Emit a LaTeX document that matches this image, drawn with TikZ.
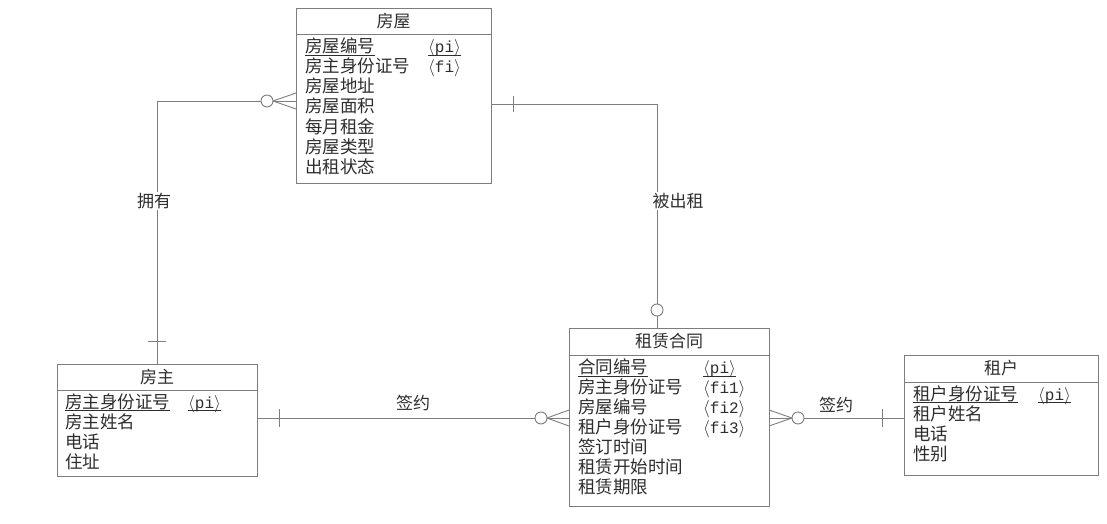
\documentclass[tikz,border=0pt]{standalone}
\usepackage{fontspec}
\newfontfamily\cjk{Noto Sans CJK SC}
\newfontfamily\tagfont{Liberation Mono}
\usetikzlibrary{positioning, calc}
\definecolor{linegray}{RGB}{125,125,125}
\definecolor{textgray}{RGB}{45,45,45}
\newcommand{\keyline}[1]{\setbox0\hbox{#1}\rlap{\rule[-3pt]{\wd0}{0.7pt}}\box0}

\begin{document}
\begin{tikzpicture}[x=1pt, y=-1pt,
  entity/.style={draw=linegray, line width=0.9pt, inner sep=0pt},
  title/.style={font=\cjk\fontsize{17}{20}\selectfont, text=textgray, inner sep=0pt},
  attr/.style={anchor=west, font=\cjk\fontsize{17.5}{20}\selectfont, text=textgray,
    inner sep=0pt, text height=13pt, text depth=3pt},
  tag/.style={anchor=west, font=\tagfont\fontsize{16}{20}\selectfont, text=textgray,
    inner sep=0pt, text height=13pt, text depth=3pt},
  link/.style={draw=linegray, line width=0.9pt},
  rel/.style={font=\cjk\fontsize{17}{20}\selectfont, text=textgray, fill=white,
    inner sep=1pt}
]
\useasboundingbox (0,0) rectangle (1107,524);

% entities
\node[entity, minimum width=195pt, minimum height=175pt] (fw) at (393.5,95.5) {};
\node[entity, minimum width=200pt, minimum height=112pt] (fz) at (157,420) {};
\node[entity, minimum width=200pt, minimum height=178pt] (ht) at (669,417) {};
\node[entity, minimum width=194pt, minimum height=120pt] (zh) at (1001,415) {};

% headers
\node[title] (fw-t) at (393.5,21) {房屋};
\node[title] (fz-t) at (157,377) {房主};
\node[title] (ht-t) at (669,341.5) {租赁合同};
\node[title] (zh-t) at (1001,368) {租户};
\draw[link] (fw.west |- 0,34) -- (fw.east |- 0,34);
\draw[link] (fz.west |- 0,390) -- (fz.east |- 0,390);
\draw[link] (ht.west |- 0,355) -- (ht.east |- 0,355);
\draw[link] (zh.west |- 0,382) -- (zh.east |- 0,382);

% attributes
\foreach \t [count=\i] in {\keyline{房屋编号}, 房主身份证号, 房屋地址, 房屋面积, 每月租金, 房屋类型, 出租状态}
  \node[attr] (fw\i) at (305,{48+20*(\i-1)}) {\t};
\node[tag] (fw-pi) at (428,48) {\keyline{$\langle$pi$\rangle$}};
\node[tag] (fw-fi) at (428,68) {$\langle$fi$\rangle$};

\foreach \t [count=\i] in {\keyline{房主身份证号}, 房主姓名, 电话, 住址}
  \node[attr] (fz\i) at (65,{403+20*(\i-1)}) {\t};
\node[tag] (fz-pi) at (188,403) {\keyline{$\langle$pi$\rangle$}};

\foreach \t [count=\i] in {\keyline{合同编号}, 房主身份证号, 房屋编号, 租户身份证号, 签订时间, 租赁开始时间, 租赁期限}
  \node[attr] (ht\i) at (578,{368.5+20*(\i-1)}) {\t};
\node[tag] (ht-pi) at (703,368.5) {\keyline{$\langle$pi$\rangle$}};
\node[tag] (ht-fi1) at (703,388.5) {$\langle$fi1$\rangle$};
\node[tag] (ht-fi2) at (703,408.5) {$\langle$fi2$\rangle$};
\node[tag] (ht-fi3) at (703,428.5) {$\langle$fi3$\rangle$};

\foreach \t [count=\i] in {\keyline{租户身份证号}, 租户姓名, 电话, 性别}
  \node[attr] (zh\i) at (913,{395+20*(\i-1)}) {\t};
\node[tag] (zh-pi) at (1038,395) {\keyline{$\langle$pi$\rangle$}};

% relationships
\draw[link] (fw.west |- 0,101) -- (fz.north |- 0,101) -- (fz.north);
\draw[link] (fw.east |- 0,104) -- (657,104) -- (ht.north -| 657,0);
\draw[link] (fz.east |- 0,418) -- (ht.west |- 0,418);
\draw[link] (ht.east |- 0,418) -- (zh.west |- 0,418);

% cardinality marks
\draw[link] (296,93) -- (273,101) -- (296,109);
\draw[link, fill=white] (267,101) circle[radius=6pt];
\draw[link] (148,341) -- (166,341);
\draw[link] (513,96) -- (513,112);
\draw[link, fill=white] (657,310) circle[radius=6pt];
\draw[link] (279,409) -- (279,427);
\draw[link] (569,410) -- (547,418) -- (569,426);
\draw[link, fill=white] (541,418) circle[radius=6pt];
\draw[link] (769,410) -- (792,418) -- (769,426);
\draw[link, fill=white] (798,418) circle[radius=6pt];
\draw[link] (882,409) -- (882,427);

% labels
\node[rel] (own) at (154,201) {拥有};
\node[rel] (rent) at (678,201) {被出租};
\node[rel, fill=none] (sign1) at (413,403) {签约};
\node[rel, fill=none] (sign2) at (836,405) {签约};

\end{tikzpicture}
\end{document}
